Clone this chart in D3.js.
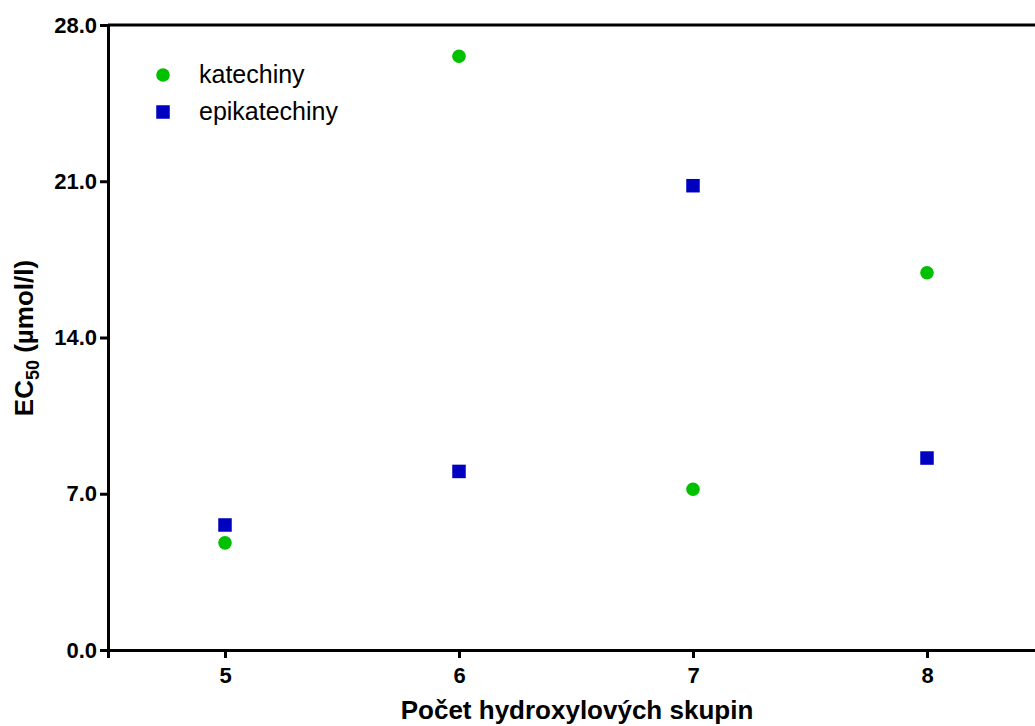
<!DOCTYPE html>
<html>
<head>
<meta charset="utf-8">
<script src="https://cdn.jsdelivr.net/npm/d3@7"></script>
<style>
  html, body { margin: 0; padding: 0; background: #fff; }
  svg { display: block; font-family: "Liberation Sans", Arial, sans-serif; }
</style>
</head>
<body>
<svg id="chart" width="1035" height="726"></svg>
<script>
// Number of hydroxyl groups (x) and EC50 values per compound group
const hydroxylCounts = [5, 6, 7, 8];
const katechiny = [4.8, 26.6, 7.2, 16.9];
const epikatechiny = [5.6, 8.0, 20.8, 8.6];
const yTicks = [0, 7, 14, 21, 28];
const xTicks = [5, 6, 7, 8];
const seriesNames = ["katechiny", "epikatechiny"];

const svg = d3.select("#chart");
const plot = { left: 108, top: 25, bottom: 650, right: 1044 };

const x = d3.scaleLinear().domain([4.5, 8.5]).range([plot.left, plot.right]);
const y = d3.scaleLinear().domain([0, 28]).range([plot.bottom, plot.top]);

// top border of the frame
svg.append("line")
  .attr("x1", plot.left).attr("x2", plot.right)
  .attr("y1", plot.top).attr("y2", plot.top)
  .attr("stroke", "#000").attr("stroke-width", 3);

// y axis
const yAxis = svg.append("g")
  .attr("transform", `translate(${plot.left},0)`)
  .call(d3.axisLeft(y).tickValues(yTicks).tickFormat(d3.format(".1f")).tickSizeOuter(0).tickSize(8).tickPadding(3));

// x axis
const xAxis = svg.append("g")
  .attr("transform", `translate(0,${plot.bottom})`)
  .call(d3.axisBottom(x).tickValues(xTicks).tickFormat(d3.format("d")).tickSizeOuter(0).tickSize(8).tickPadding(9));

[yAxis, xAxis].forEach(g => {
  g.attr("font-size", null).attr("font-family", null);
  g.select(".domain").attr("stroke", "#000").attr("stroke-width", 3);
  g.selectAll(".tick line").attr("stroke", "#000").attr("stroke-width", 3);
  g.selectAll(".tick text")
    .attr("fill", "#000")
    .style("font-size", "22px")
    .style("font-weight", "bold")
    .style("font-family", "'Liberation Sans', Arial, sans-serif");
});

// axis titles
svg.append("text")
  .attr("x", 577).attr("y", 719)
  .attr("text-anchor", "middle")
  .style("font-size", "26px").style("font-weight", "bold")
  .text("Počet hydroxylových skupin");

const yTitle = svg.append("text")
  .attr("transform", `translate(33,338) rotate(-90)`)
  .attr("text-anchor", "middle")
  .style("font-size", "26px").style("font-weight", "bold");
yTitle.append("tspan").text("EC");
yTitle.append("tspan").attr("dy", 6).style("font-size", "18px").text("50");
yTitle.append("tspan").attr("dy", -6).text(" (µmol/l)");

// data points
const green = "#00c000", blue = "#0000c0";
svg.append("g").selectAll("circle")
  .data(hydroxylCounts.map((h, i) => ({ h, v: katechiny[i] })))
  .join("circle")
  .attr("cx", d => x(d.h)).attr("cy", d => y(d.v))
  .attr("r", 6.8).attr("fill", green);

const sq = 13.5;
svg.append("g").selectAll("rect")
  .data(hydroxylCounts.map((h, i) => ({ h, v: epikatechiny[i] })))
  .join("rect")
  .attr("x", d => x(d.h) - sq / 2).attr("y", d => y(d.v) - sq / 2)
  .attr("width", sq).attr("height", sq).attr("fill", blue);

// legend
const legend = svg.append("g");
legend.append("circle").attr("cx", 163).attr("cy", 75).attr("r", 6.8).attr("fill", green);
legend.append("rect").attr("x", 163 - sq / 2).attr("y", 112 - sq / 2).attr("width", sq).attr("height", sq).attr("fill", blue);
legend.selectAll("text")
  .data(seriesNames)
  .join("text")
  .attr("x", 199).attr("y", (d, i) => 83 + i * 37)
  .style("font-size", "25px")
  .text(d => d);
</script>
</body>
</html>
